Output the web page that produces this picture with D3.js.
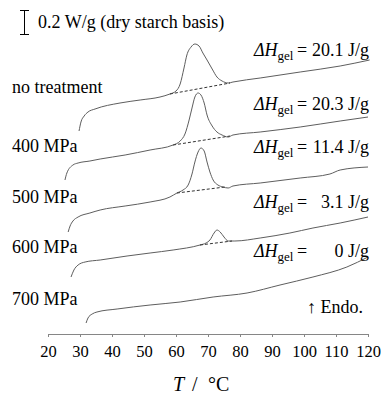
<!DOCTYPE html>
<html lang="en">
<head>
<meta charset="UTF-8">
<title>DSC thermograms</title>
<script src="https://cdn.jsdelivr.net/npm/d3@7"></script>
<style>
  body { margin: 0; background: #fff; overflow: hidden; }
  text { font-family: "Liberation Serif", "Times New Roman", serif; fill: #000; }
</style>
</head>
<body>
<script>
    // temperature (°C), heat flow (W/g, curves stacked with an offset)
    const noTreatment = [
        [29.7, 1.632], [30.3, 1.704], [31.3, 1.752], [32.5, 1.784], [34.7, 1.808],
        [42.5, 1.856], [48.8, 1.880], [55.0, 1.904], [58.1, 1.928], [60.0, 1.952],
        [61.3, 2.008], [62.5, 2.136], [63.4, 2.240], [64.7, 2.304], [65.9, 2.328],
        [67.2, 2.312], [68.4, 2.256], [69.7, 2.200], [71.3, 2.128], [72.8, 2.064],
        [74.4, 2.032], [76.3, 2.016], [77.8, 2.024], [86.3, 2.056], [98.8, 2.104],
        [111.3, 2.152], [120.5, 2.200]
    ];
    const mpa400 = [
        [25.3, 1.240], [25.9, 1.296], [27.8, 1.360], [29.4, 1.376], [33.1, 1.392],
        [36.3, 1.408], [44.1, 1.440], [51.9, 1.480], [59.1, 1.520], [61.3, 1.552],
        [62.8, 1.608], [64.1, 1.720], [65.0, 1.816], [65.9, 1.904], [66.9, 1.936],
        [67.8, 1.920], [68.8, 1.856], [69.7, 1.760], [71.3, 1.672], [72.8, 1.624],
        [74.4, 1.600], [76.3, 1.584], [77.8, 1.600], [86.3, 1.624], [98.8, 1.664],
        [111.3, 1.712], [120.0, 1.744]
    ];
    const mpa500 = [
        [26.3, 0.824], [26.9, 0.872], [27.8, 0.912], [29.4, 0.944], [33.1, 0.976],
        [36.3, 1.000], [44.1, 1.032], [51.9, 1.064], [58.1, 1.104], [60.3, 1.136],
        [62.2, 1.160], [63.8, 1.200], [65.0, 1.288], [65.9, 1.384], [66.9, 1.464],
        [67.8, 1.496], [68.8, 1.472], [69.7, 1.384], [70.6, 1.304], [71.6, 1.240],
        [73.1, 1.200], [74.7, 1.184], [76.3, 1.176], [77.8, 1.192], [86.3, 1.216],
        [98.8, 1.256], [108.1, 1.288], [111.3, 1.320], [120.0, 1.344]
    ];
    const mpa600 = [
        [27.2, 0.464], [28.1, 0.520], [29.4, 0.560], [31.6, 0.584], [36.3, 0.600],
        [44.7, 0.632], [51.9, 0.656], [59.1, 0.680], [67.5, 0.720], [69.4, 0.736],
        [70.6, 0.760], [71.9, 0.816], [72.8, 0.840], [73.8, 0.824], [75.0, 0.784],
        [76.3, 0.752], [78.4, 0.752], [86.3, 0.776], [95.6, 0.816], [102.8, 0.856],
        [111.3, 0.896], [120.0, 0.944]
    ];
    const mpa700 = [
        [31.9, 0.096], [32.5, 0.136], [33.8, 0.168], [35.3, 0.184], [41.6, 0.208],
        [51.9, 0.240], [61.3, 0.264], [71.6, 0.304], [82.2, 0.336], [92.5, 0.400],
        [102.8, 0.464], [113.4, 0.544], [120.0, 0.624]
    ];
    // integration baselines under the gelatinisation peaks
    const baselines = [
        [[58.1, 1.928], [76.9, 2.016]],
        [[59.1, 1.520], [76.9, 1.592]],
        [[60.3, 1.136], [75.3, 1.184]],
        [[67.5, 0.720], [77.5, 0.752]]
    ];
    const sampleLabels = ["no treatment", "400 MPa", "500 MPa", "600 MPa", "700 MPa"];
    const enthalpies = [20.1, 20.3, 11.4, 3.1, 0];
    const xTicks = [20, 30, 40, 50, 60, 70, 80, 90, 100, 110, 120];

    const width = 384, height = 399;
    const svg = d3.select("body").append("svg")
        .attr("width", width).attr("height", height);

    const x = d3.scaleLinear().domain([20, 120]).range([48, 368]);
    const y = d3.scaleLinear().domain([0, 2.68]).range([335, 0]);

    // x axis
    const axis = svg.append("g")
        .attr("transform", "translate(0,334)")
        .call(d3.axisBottom(x).tickValues(xTicks).tickSize(3).tickSizeOuter(0).tickPadding(8));
    axis.select(".domain").attr("stroke", "#868686");
    axis.selectAll(".tick line").attr("stroke", "#868686");
    axis.selectAll(".tick text")
        .style("font-family", "'Liberation Serif', serif")
        .style("font-size", "16.5px")
        .attr("fill", "#000");

    const line = d3.line()
        .x(d => x(d[0]))
        .y(d => y(d[1]))
        .curve(d3.curveMonotoneX);

    const curves = [noTreatment, mpa400, mpa500, mpa600, mpa700];
    svg.append("g").selectAll("path")
        .data(curves)
        .join("path")
        .attr("d", line)
        .attr("fill", "none")
        .attr("stroke", "#5e5e5e")
        .attr("stroke-width", 1);

    svg.append("g").selectAll("path")
        .data(baselines)
        .join("path")
        .attr("d", d3.line().x(d => x(d[0])).y(d => y(d[1])))
        .attr("fill", "none")
        .attr("stroke", "#333")
        .attr("stroke-width", 1)
        .attr("stroke-dasharray", "3,2");

    // scale bar 0.2 W/g
    const bar = svg.append("g").attr("stroke", "#000").attr("stroke-width", 1);
    bar.append("line").attr("x1", 24.5).attr("x2", 24.5).attr("y1", y(2.6)).attr("y2", y(2.4));
    bar.append("line").attr("x1", 20).attr("x2", 29).attr("y1", y(2.6) + 0.5).attr("y2", y(2.6) + 0.5);
    bar.append("line").attr("x1", 20).attr("x2", 29).attr("y1", y(2.4) - 0.5).attr("y2", y(2.4) - 0.5);
    svg.append("text").attr("x", 38).attr("y", 28)
        .style("font-size", "18px").text("0.2 W/g (dry starch basis)");

    // sample labels
    const labelY = [93, 152, 203, 253, 305];
    svg.append("g").selectAll("text")
        .data(sampleLabels)
        .join("text")
        .attr("x", 12)
        .attr("y", (d, i) => labelY[i])
        .style("font-size", "18px")
        .text(d => d);

    // enthalpy labels
    const dhY = [56, 110, 153, 208, 257];
    const dh = svg.append("g").selectAll("g")
        .data(enthalpies)
        .join("g")
        .attr("transform", (d, i) => `translate(0,${dhY[i]})`);
    const t = dh.append("text").attr("x", 254).style("font-size", "18px");
    t.append("tspan").style("font-style", "italic").text("ΔH");
    t.append("tspan").attr("dy", 4).style("font-size", "13px").text("gel");
    t.append("tspan").attr("dy", -4).attr("x", 297).text("=");
    dh.append("text")
        .attr("x", 369)
        .attr("text-anchor", "end")
        .style("font-size", "18px")
        .text(d => (d === 0 ? "0" : d.toFixed(1)) + " J/g");

    svg.append("text").attr("x", 307).attr("y", 313)
        .style("font-size", "18px").text("↑ Endo.");

    // axis title
    const title = svg.append("text").attr("y", 391).style("font-size", "20px");
    title.append("tspan").attr("x", 173).style("font-style", "italic").text("T");
    title.append("tspan").attr("x", 192).text("/");
    title.append("tspan").attr("x", 208).text("°C");
</script>
</body>
</html>
